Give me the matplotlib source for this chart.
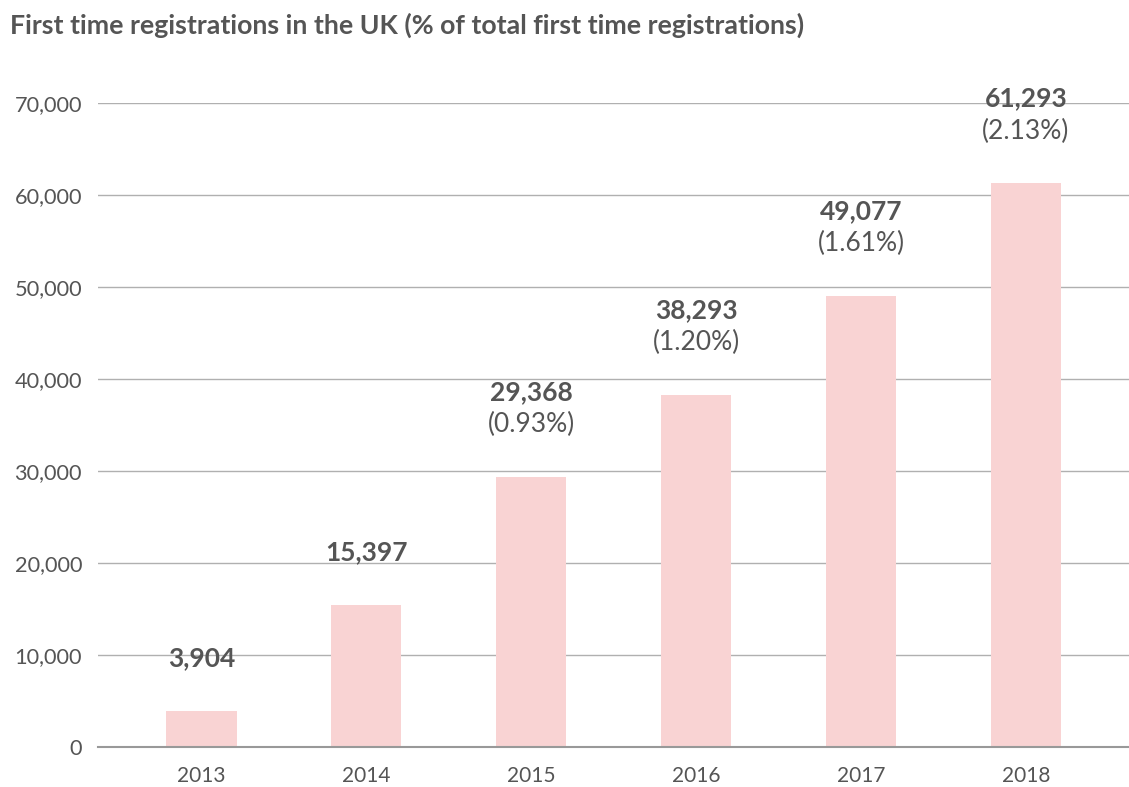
import matplotlib.pyplot as plt
import numpy as np

plt.rcParams['font.family'] = ['Lato', 'DejaVu Sans']

years = ['2013', '2014', '2015', '2016', '2017', '2018']
registrations = [3904, 15397, 29368, 38293, 49077, 61293]
shares = [None, None, '(0.93%)', '(1.20%)', '(1.61%)', '(2.13%)']
yticks = [0, 10000, 20000, 30000, 40000, 50000, 60000, 70000]

textColor = '#555555'
barColor = '#f9d3d3'

fig = plt.figure(figsize=(11.29, 7.87), dpi=100, facecolor='w')
ax = fig.add_axes([0.0868, 0.0508, 0.9132, 0.818])

x = np.arange(len(years))
ax.bar(x, registrations, width=0.425, color=barColor, zorder=2)

ax.set_xlim(-0.628, 5.626)
ax.set_ylim(0, 70000)
ax.set_yticks(yticks)
ax.set_yticklabels([f'{v:,}' for v in yticks])
ax.set_xticks(x)
ax.set_xticklabels(years)
ax.tick_params(axis='y', length=0, pad=11.5, labelsize=15.7, labelcolor=textColor)
ax.tick_params(axis='x', length=0, pad=14, labelsize=15, labelcolor=textColor)

ax.grid(axis='y', color='#b0b0b0', linewidth=1.0, zorder=0)
for s in ['top', 'right', 'left']:
  ax.spines[s].set_visible(False)
ax.spines['bottom'].set_color('#999999')
ax.spines['bottom'].set_linewidth(1.5)

# labels above bars
for i, v in enumerate(registrations):
  if shares[i] is None:
    ax.annotate(f'{v:,}', (x[i], v), xytext=(0, 53), textcoords='offset pixels',
                ha='center', va='center', fontsize=19, fontweight='bold', color=textColor,
                annotation_clip=False, zorder=3)
  else:
    ax.annotate(f'{v:,}', (x[i], v), xytext=(0, 85), textcoords='offset pixels',
                ha='center', va='center', fontsize=19, fontweight='bold', color=textColor,
                annotation_clip=False, zorder=3)
    ax.annotate(shares[i], (x[i], v), xytext=(0, 52), textcoords='offset pixels',
                ha='center', va='center', fontsize=19, color=textColor,
                annotation_clip=False, zorder=3)

fig.text(0.009, 0.968, 'First time registrations in the UK (% of total first time registrations)',
         ha='left', va='center', fontsize=19.3, fontweight='bold', color=textColor)

fig.savefig('out.png', dpi=100, facecolor='w')
